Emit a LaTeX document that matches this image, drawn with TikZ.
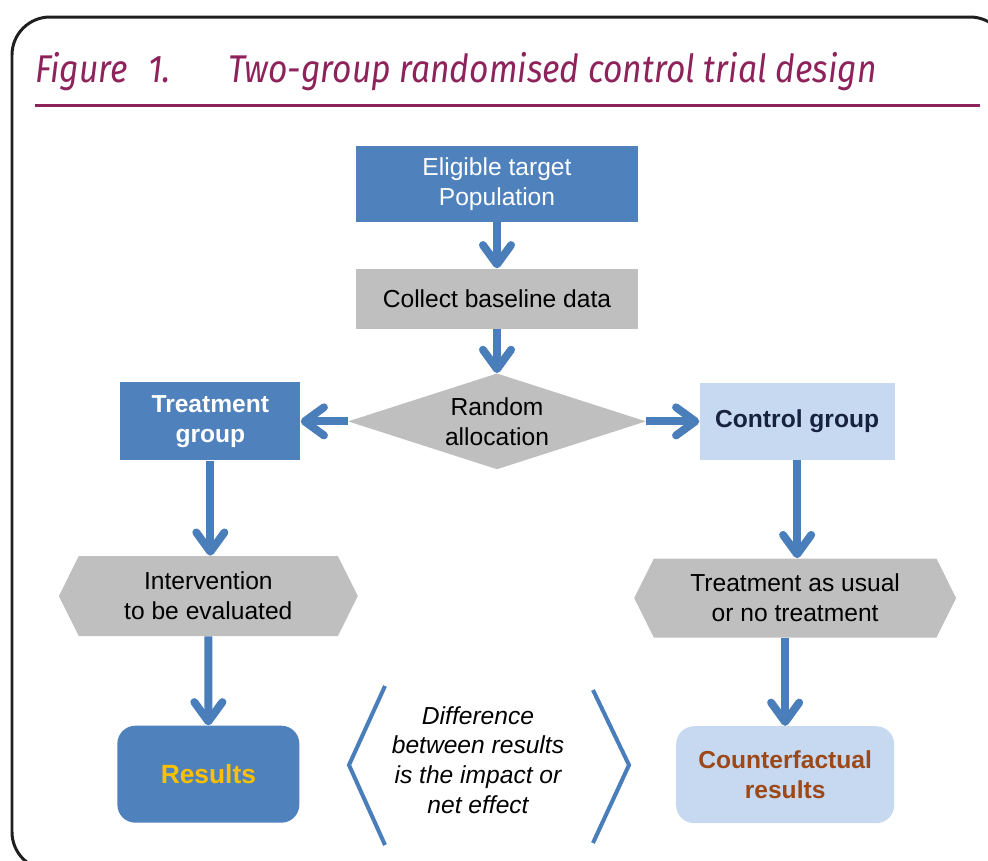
\documentclass[tikz,border=0pt]{standalone}
\usepackage{fontspec}
\setmainfont{Liberation Sans}
\newfontfamily\titlefont{Fira Sans}
\usetikzlibrary{positioning,shapes.geometric,shapes.symbols,arrows.meta}

\definecolor{boxblue}{RGB}{79,129,189}
\definecolor{paleblue}{RGB}{198,217,241}
\definecolor{boxgray}{RGB}{191,191,191}
\definecolor{arrowblue}{RGB}{74,126,187}
\definecolor{titlered}{RGB}{142,34,90}
\definecolor{gold}{RGB}{255,192,0}
\definecolor{rust}{RGB}{156,72,24}
\definecolor{navy}{RGB}{23,35,62}

\tikzset{
  box/.style={rectangle, align=center, inner sep=0pt, font=\fontsize{14}{17}\selectfont},
  bluebox/.style={box, fill=boxblue, text=white},
  graybox/.style={box, fill=boxgray, text=black},
  palebox/.style={box, fill=paleblue},
  hexbox/.style={graybox, signal, signal to=west and east, signal pointer angle=127},
  flow/.style={draw=arrowblue, line width=4.5pt, -{Straight Barb[round, length=11pt, width=16pt]}},
  bracket/.style={draw=arrowblue, line width=2.3pt}
}

\begin{document}
\begin{tikzpicture}[x=0.02cm, y=-0.02cm]
  \useasboundingbox (0,0) rectangle (988,860);
  \clip (0,0) rectangle (988,860);
  \draw[line width=1.7pt, black!88, rounded corners=0.76cm] (12,17) rectangle (1008,870);

  % heading
  \node[anchor=base west, text=titlered, font=\titlefont\itshape\fontsize{22}{26}\selectfont, inner sep=0pt] (figno) at (35,82) {\scalebox{0.87}[1]{Figure\hspace{0.6em}1.}};
  \node[anchor=base west, text=titlered, font=\titlefont\itshape\fontsize{22}{26}\selectfont, inner sep=0pt] (title) at (228,82) {\scalebox{0.87}[1]{Two-group randomised control trial design}};
  \draw[titlered, line width=1.7pt] (35,105) -- (980,105);

  % flow chart
  \node[bluebox, minimum width=5.64cm, minimum height=1.52cm] (pop) at (497,184) {Eligible target\\Population};
  \node[graybox, minimum width=5.64cm, minimum height=1.2cm, below=0.92cm of pop] (base) {Collect baseline data};
  \node[graybox, diamond, aspect=3.1, minimum width=5.96cm, minimum height=1.92cm, below=0.88cm of base] (alloc) {Random\\allocation};
  \node[bluebox, font=\fontsize{14}{17}\selectfont\bfseries, minimum width=3.6cm, minimum height=1.56cm, left=0.94cm of alloc] (treat) {Treatment\\group};
  \node[palebox, text=navy, font=\fontsize{14}{17}\selectfont\bfseries, minimum width=3.9cm, minimum height=1.54cm, right=1.06cm of alloc] (ctrl) {Control group};
  \node[hexbox, minimum width=5.98cm, minimum height=1.6cm, below=1.9cm of treat, xshift=-0.04cm] (interv) {Intervention\\to be evaluated};
  \node[hexbox, minimum width=6.44cm, minimum height=1.58cm, below=1.96cm of ctrl, xshift=-0.04cm] (tau) {Treatment as usual\\or no treatment};
  \node[bluebox, text=gold, font=\fontsize{15}{18}\selectfont\bfseries, rounded corners=0.36cm, minimum width=3.64cm, minimum height=1.94cm, below=1.78cm of interv] (res) {Results};
  \node[palebox, text=rust, font=\fontsize{14}{17}\selectfont\bfseries, rounded corners=0.36cm, minimum width=4.36cm, minimum height=1.94cm, below=1.76cm of tau, xshift=-0.2cm] (cf) {Counterfactual\\results};

  \node[align=center, font=\fontsize{14}{17}\selectfont\itshape] (diff) at (478,760) {Difference\\between results\\is the impact or\\net effect};
  \draw[bracket] (385,686) -- (349,765) -- (385,845);
  \draw[bracket] (593,690) -- (629,765) -- (593,843);

  \draw[flow] (pop) -- (base);
  \draw[flow] (base) -- (alloc);
  \draw[flow] (alloc) -- (treat);
  \draw[flow] (alloc) -- (ctrl);
  \draw[flow] (treat.south) -- (treat.south |- interv.north);
  \draw[flow] (ctrl.south) -- (ctrl.south |- tau.north);
  \draw[flow] (interv) -- (res);
  \draw[flow] (tau.south -| cf.north) -- (cf.north);
\end{tikzpicture}
\end{document}
